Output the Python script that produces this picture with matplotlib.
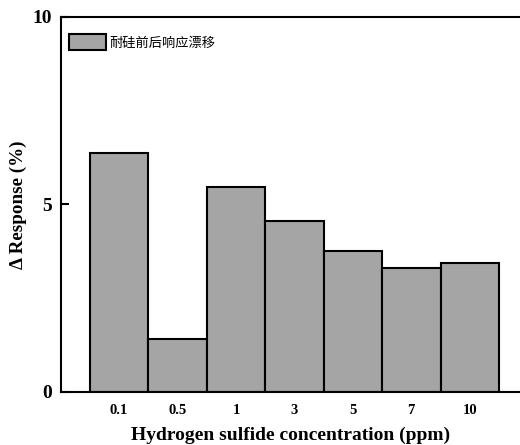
import matplotlib
matplotlib.use("Agg")
import matplotlib.pyplot as plt

plt.rcParams.update({
    "font.family": ["Liberation Serif", "DejaVu Serif"],
    "font.weight": "bold",
    "axes.linewidth": 1.5,
})

CONC = ["0.1", "0.5", "1", "3", "5", "7", "10"]
DRIFT = [6.38, 1.41, 5.45, 4.56, 3.76, 3.31, 3.44]
LEGEND_LABEL = "耐硅前后响应漂移"
BAR_C = "#a5a5a5"

fig = plt.figure(figsize=(5.2, 4.45), dpi=100)
ax = fig.add_axes([0.1167, 0.1198, 1 - 0.1167, 0.8422])

x = list(range(len(CONC)))
ax.bar(x, DRIFT, width=1.0, color=BAR_C, edgecolor="black", linewidth=1.5,
       label=LEGEND_LABEL, zorder=2)

ax.set_xlim(-1, 6.86)
ax.set_ylim(0, 10)
ax.set_yticks([0, 5, 10])
ax.set_xticks(x)
ax.set_xticklabels(CONC, fontsize=10.5, fontweight="bold")
ax.tick_params(axis="x", length=0, pad=9)
ax.tick_params(axis="y", direction="in", length=6, width=1.5, labelsize=14, pad=6)
for t in ax.get_yticklabels():
    t.set_fontweight("bold")
ax.spines["right"].set_visible(False)

ax.set_xlabel("Hydrogen sulfide concentration (ppm)", fontsize=14, fontweight="bold",
              labelpad=7)
ax.set_ylabel("\u0394 Response (%)", fontsize=13.7, fontweight="bold")
ax.yaxis.set_label_coords(-0.073, 0.5)

leg = ax.legend(loc="upper left", frameon=False, handlelength=2.8, handleheight=1.5,
                handletextpad=0.25, borderaxespad=0.0, bbox_to_anchor=(0.006, 0.968),
                prop={"family": ["Noto Sans CJK SC", "DejaVu Sans"], "size": 9.5,
                      "weight": "normal"})

fig.savefig("out.png", dpi=100)
